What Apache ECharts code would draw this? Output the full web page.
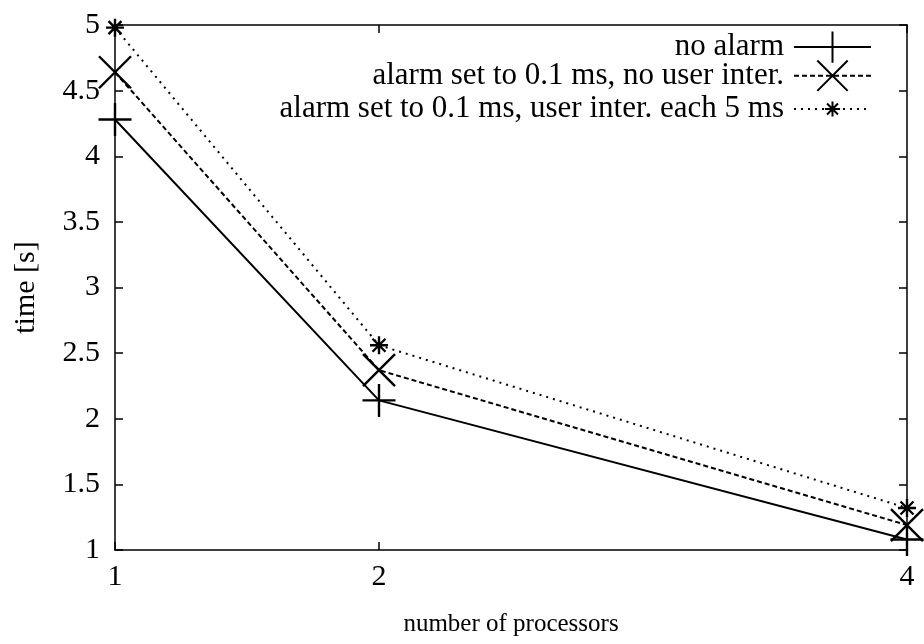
<!DOCTYPE html>
<html><head><meta charset="utf-8">
<script src="https://cdn.jsdelivr.net/npm/echarts@6/dist/echarts.min.js"></script>
<style>html,body{margin:0;padding:0;background:#fff}#c{width:924px;height:644px}</style>
</head><body><div id="c"></div>
<script>
const processors = [1, 2, 4];
const xTicks = [1, 2, 4];
const yTicks = [1, 1.5, 2, 2.5, 3, 3.5, 4, 4.5, 5];
const seriesNames = ['no alarm', 'alarm set to 0.1 ms, no user inter.', 'alarm set to 0.1 ms, user inter. each 5 ms'];
const noAlarm = [4.28, 2.14, 1.08];
const alarmNoUser = [4.64, 2.37, 1.19];
const alarmUser = [4.98, 2.56, 1.32];
const xName = 'number of processors';
const yName = 'time [s]';

const FONT = '"Liberation Serif", "DejaVu Serif", serif';
const TICK_FS = 30;
const LEG_FS = 31;
const plusPath = 'path://M0,-1L0,1M-1,0L1,0';
const crossPath = 'path://M-1,-1L1,1M-1,1L1,-1';
const starPath = 'path://M0,-1L0,1M-1,0L1,0M-0.72,-0.72L0.72,0.72M-0.72,0.72L0.72,-0.72';

function pairs(vals){ return processors.map((p,i)=>[p, vals[i]]); }

const seriesDefs = [
  {name: seriesNames[0], data: noAlarm, symbol: plusPath, size: 33, type: 'solid', lh: 39},
  {name: seriesNames[1], data: alarmNoUser, symbol: crossPath, size: 32, type: [5, 3], lh: 38},
  {name: seriesNames[2], data: alarmUser, symbol: starPath, size: 18, type: [2, 5], lh: 19}
];
const legendCenters = [50, 78.5, 103];

const chart = echarts.init(document.getElementById('c'), null, {renderer: 'canvas'});
const axisCommon = {
  type: 'value',
  axisLine: {show: true, lineStyle: {color: '#000', width: 1.5}},
  splitLine: {show: false},
  axisTick: {show: true, inside: true, length: 8, lineStyle: {color: '#000', width: 1.5}}
};
chart.setOption({
  animation: false,
  backgroundColor: '#fff',
  textStyle: {fontFamily: FONT},
  grid: {left: 115, right: 17, top: 25, bottom: 94, containLabel: false},
  xAxis: [
    Object.assign({}, axisCommon, {
      position: 'bottom', min: 1, max: 4,
      name: xName, nameLocation: 'middle', nameGap: 62,
      nameTextStyle: {fontFamily: FONT, fontSize: 25, color: '#000'},
      axisTick: Object.assign({}, axisCommon.axisTick, {customValues: xTicks}),
      axisLabel: {customValues: xTicks, margin: 12, fontFamily: FONT, fontSize: TICK_FS, color: '#000'}
    }),
    Object.assign({}, axisCommon, {
      position: 'top', min: 1, max: 4,
      axisTick: Object.assign({}, axisCommon.axisTick, {customValues: xTicks}),
      axisLabel: {show: false}
    })
  ],
  yAxis: [
    Object.assign({}, axisCommon, {
      position: 'left', min: 1, max: 5, interval: 0.5,
      name: yName, nameLocation: 'middle', nameGap: 74,
      nameTextStyle: {fontFamily: FONT, fontSize: 30, color: '#000'},
      axisLabel: {margin: 15, fontFamily: FONT, fontSize: TICK_FS, color: '#000'}
    }),
    Object.assign({}, axisCommon, {
      position: 'right', min: 1, max: 5, interval: 0.5,
      axisLabel: {show: false}
    })
  ],
  legend: seriesDefs.map((s, i) => ({
    data: [s.name],
    right: 52,
    top: legendCenters[i] - s.lh / 2,
    align: 'right',
    itemWidth: 77,
    itemHeight: s.lh,
    padding: 0,
    textStyle: {fontFamily: FONT, fontSize: LEG_FS, color: '#000', padding: [0, 5, 0, 0]},
    selectedMode: false
  })),
  series: seriesDefs.map(s => ({
    name: s.name,
    type: 'line',
    data: pairs(s.data),
    xAxisIndex: 0, yAxisIndex: 0,
    clip: false,
    symbol: s.symbol,
    symbolSize: s.size,
    lineStyle: {color: '#000', width: 2, type: s.type},
    itemStyle: {color: 'rgba(0,0,0,0)', borderColor: '#000', borderWidth: 2.4},
    emphasis: {disabled: true}
  }))
});
</script></body></html>
